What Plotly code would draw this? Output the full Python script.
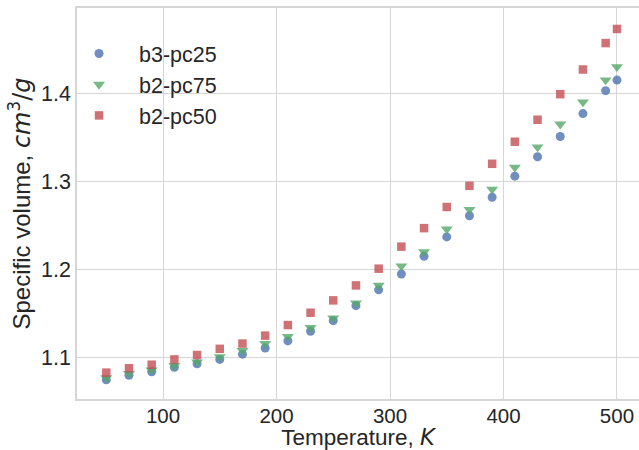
import plotly.graph_objects as go

# Temperature grid (K)
temperature = [50, 70, 90, 110, 130, 150, 170, 190, 210, 230, 250, 270,
               290, 310, 330, 350, 370, 390, 410, 430, 450, 470, 490, 500]

# Specific volume (cm^3/g) for each blend
b3_pc25 = [1.075, 1.080, 1.084, 1.089, 1.093, 1.098, 1.104, 1.111, 1.119, 1.130,
           1.142, 1.159, 1.177, 1.195, 1.215, 1.237, 1.261, 1.282, 1.306, 1.328,
           1.351, 1.377, 1.403, 1.415]
b2_pc75 = [1.077, 1.082, 1.086, 1.091, 1.095, 1.101, 1.108, 1.116, 1.124, 1.134,
           1.145, 1.162, 1.182, 1.204, 1.220, 1.246, 1.268, 1.291, 1.316, 1.339,
           1.365, 1.390, 1.415, 1.430]
b2_pc50 = [1.083, 1.088, 1.092, 1.098, 1.103, 1.110, 1.116, 1.125, 1.137, 1.151,
           1.165, 1.182, 1.201, 1.226, 1.247, 1.271, 1.295, 1.320, 1.345, 1.370,
           1.399, 1.427, 1.457, 1.473]

series = [
    ("b3-pc25", b3_pc25, "#4C72B0", "circle", 9),
    ("b2-pc75", b2_pc75, "#55A868", "triangle-down", 10.5),
    ("b2-pc50", b2_pc50, "#C44E52", "square", 8.5),
]

FONT = "Liberation Sans, Arial, sans-serif"
MATH = "font-family:'DejaVu Sans'"
TEXT = "#262626"
GRID = "#d6d6d6"

fig = go.Figure()
for name, vals, color, symbol, size in series:
    fig.add_trace(go.Scatter(
        x=temperature, y=vals, mode="markers", name=name,
        marker=dict(color=color, symbol=symbol, size=size, opacity=0.8,
                    line=dict(width=0)),
    ))

fig.update_layout(
    width=639, height=450,
    margin=dict(l=77, r=0, t=8, b=51),
    paper_bgcolor="white", plot_bgcolor="white",
    font=dict(family=FONT, size=21, color=TEXT),
    showlegend=True,
    legend=dict(x=-0.032, y=0.936, xanchor="left", yanchor="top",
                bgcolor="rgba(0,0,0,0)", font=dict(size=21.5, color=TEXT),
                itemwidth=70),
)
fig.update_xaxes(
    range=[24.2, 519.4], tickvals=[100, 200, 300, 400, 500],
    showgrid=True, gridcolor=GRID, gridwidth=1,
    showline=True, linecolor=GRID, linewidth=1.5, mirror=True,
    zeroline=False, ticks="", tickfont=dict(size=20.5, color=TEXT),
    ticklabelstandoff=-2,
    title=dict(text=f"Temperature, <span style=\"{MATH}\"><i>K</i></span>",
               font=dict(size=22.5, color=TEXT), standoff=4),
)
fig.update_yaxes(
    range=[1.0531, 1.4968], tickvals=[1.1, 1.2, 1.3, 1.4],
    showgrid=True, gridcolor=GRID, gridwidth=1,
    showline=True, linecolor=GRID, linewidth=1.5, mirror=False,
    zeroline=False, ticks="", tickfont=dict(size=21.5, color=TEXT),
    title=dict(text=f"Specific volume, <span style=\"{MATH}\"><i>cm</i><sup>3</sup>/<i>g</i></span>",
               font=dict(size=24, color=TEXT), standoff=4),
)

fig.write_html("out.html")
